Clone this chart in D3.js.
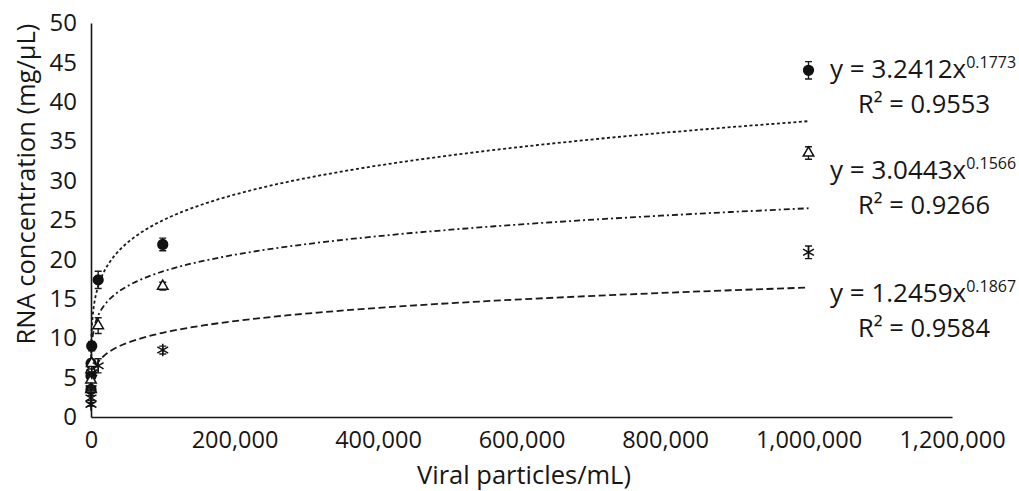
<!DOCTYPE html>
<html>
<head>
<meta charset="utf-8">
<script src="https://cdn.jsdelivr.net/npm/d3@7"></script>
<style>
  body { margin: 0; background: #fff; }
  text { font-family: "Open Sans", sans-serif; fill: #161616; }
</style>
</head>
<body>
<svg></svg>
<script>
// data
const particles = [1, 10, 100, 1000, 10000, 100000, 1000000];
const circleVals = [3.5, 5.2, 6.8, 9.0, 17.4, 21.9, 44.0];
const circleErr = [0.3, 0.4, 0.5, 0.6, 1.1, 0.8, 1.1];
const triangleVals = [3.5, 4.7, 6.0, 6.8, 11.6, 16.6, 33.5];
const triangleErr = [0.3, 0.3, 0.4, 0.5, 1.0, 0.5, 0.8];
const starVals = [1.6, 2.4, 3.6, 5.6, 6.5, 8.5, 20.9];
const starErr = [0.2, 0.3, 0.3, 0.5, 0.9, 0.5, 0.8];

const fits = [
    { a: 3.2412, b: 0.1773, eq: "y = 3.2412x", exp: "0.1773", r2: "0.9553", dash: "3,2.5" },
    { a: 3.0443, b: 0.1566, eq: "y = 3.0443x", exp: "0.1566", r2: "0.9266", dash: "6,3,2,3" },
    { a: 1.2459, b: 0.1867, eq: "y = 1.2459x", exp: "0.1867", r2: "0.9584", dash: "7,3.5" }
];

const xTicks = [0, 200000, 400000, 600000, 800000, 1000000, 1200000];
const yTicks = [0, 5, 10, 15, 20, 25, 30, 35, 40, 45, 50];

const width = 1019;
const height = 491;

let svg = d3.select("svg")
    .attr("width", width)
    .attr("height", height);

let x = d3.scaleLinear().domain([0, 1200000]).range([91, 952]);
let y = d3.scaleLinear().domain([0, 50]).range([417, 23]);

//axes
svg.append("g")
    .attr("transform", `translate(0, ${y(0)})`)
    .call(d3.axisBottom(x).tickValues(xTicks).tickSize(0).tickPadding(14).tickFormat(d3.format(",")))
    .call(g => g.select(".domain").attr("stroke", "#161616").attr("stroke-width", 1.6))
    .call(g => g.selectAll("text").attr("font-size", 23.5).attr("font-family", "Open Sans").attr("fill", "#161616"));

svg.append("g")
    .attr("transform", `translate(${x(0)}, 0)`)
    .call(d3.axisLeft(y).tickValues(yTicks).tickSize(0).tickPadding(14))
    .call(g => g.select(".domain").attr("stroke", "#161616").attr("stroke-width", 1.6))
    .call(g => g.selectAll("text").attr("font-size", 24).attr("font-family", "Open Sans").attr("fill", "#161616"));

//trendlines
let samples = d3.range(0, 6.001, 0.05).map(e => Math.pow(10, e));
let line = d3.line().x(d => x(d[0])).y(d => y(d[1]));
fits.forEach(f => {
    svg.append("path")
        .attr("d", line(samples.map(s => [s, f.a * Math.pow(s, f.b)])))
        .attr("fill", "none")
        .attr("stroke", "#1a1a1a")
        .attr("stroke-width", 1.8)
        .attr("stroke-dasharray", f.dash);
});

//points + error bars
const series = [
    { vals: circleVals, err: circleErr, sym: d3.symbolCircle, size: 75, fill: "#111" },
    { vals: triangleVals, err: triangleErr, sym: d3.symbolTriangle, size: 48, fill: "#fff" },
    { vals: starVals, err: starErr, sym: d3.symbolAsterisk, size: 110, fill: "none" }
];

series.forEach(s => {
    let g = svg.append("g");
    let pts = particles.map((p, i) => ({ p: p, v: s.vals[i], e: s.err[i] }));
    g.selectAll(".err")
        .data(pts).enter().append("path")
        .attr("d", d => `M${x(d.p) - 3.5},${y(d.v + d.e)}H${x(d.p) + 3.5}M${x(d.p)},${y(d.v + d.e)}V${y(d.v - d.e)}M${x(d.p) - 3.5},${y(d.v - d.e)}H${x(d.p) + 3.5}`)
        .attr("stroke", "#1a1a1a")
        .attr("stroke-width", 1.4)
        .attr("fill", "none");
    g.selectAll(".pt")
        .data(pts).enter().append("path")
        .attr("transform", d => `translate(${x(d.p)}, ${y(d.v)})`)
        .attr("d", d3.symbol().type(s.sym).size(s.size))
        .attr("fill", s.fill)
        .attr("stroke", "#111")
        .attr("stroke-width", 1.5);
});

//equation labels
const labelY = [78, 179, 302];
fits.forEach((f, i) => {
    let t = svg.append("text")
        .attr("x", 830)
        .attr("y", labelY[i])
        .attr("font-size", 26);
    t.append("tspan").text(f.eq);
    t.append("tspan").attr("dy", -10).attr("font-size", 16).text(f.exp);
    svg.append("text")
        .attr("x", 858)
        .attr("y", labelY[i] + 35)
        .attr("font-size", 25.5)
        .text(`R² = ${f.r2}`);
});

//axis titles
svg.append("text")
    .attr("text-anchor", "middle")
    .attr("x", 524)
    .attr("y", 484)
    .attr("font-size", 25.5)
    .text("Viral particles/mL)");

svg.append("text")
    .attr("text-anchor", "middle")
    .attr("transform", "rotate(-90)")
    .attr("x", -184)
    .attr("y", 35)
    .attr("font-size", 25.5)
    .text("RNA concentration (mg/μL)");
</script>
</body>
</html>
